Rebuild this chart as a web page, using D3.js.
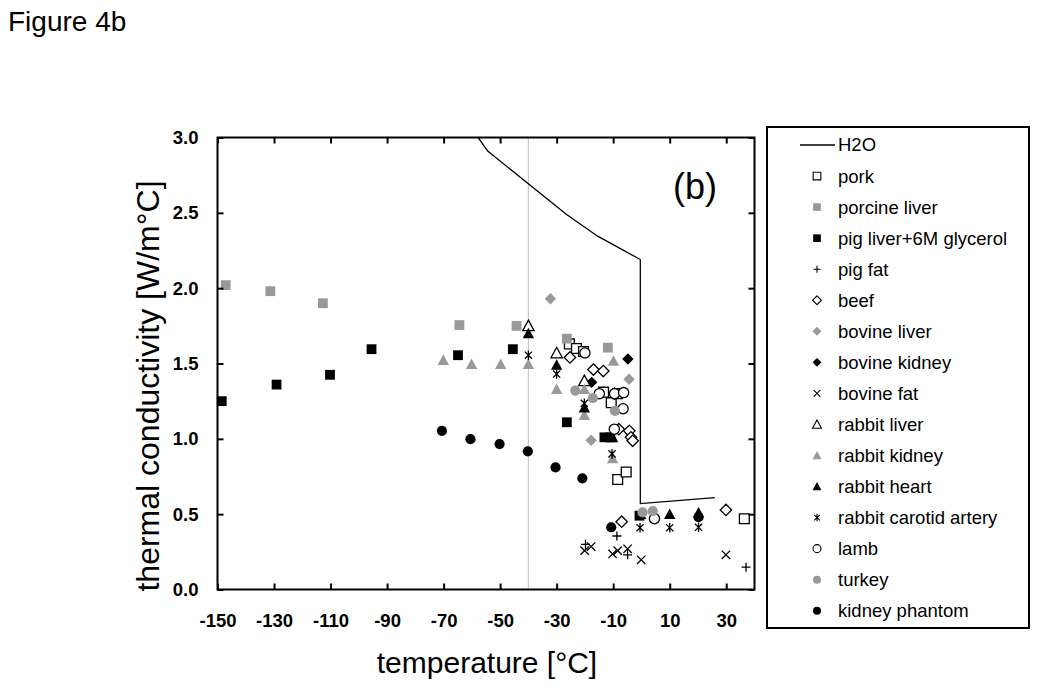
<!DOCTYPE html>
<html>
<head>
<meta charset="utf-8">
<script src="https://cdn.jsdelivr.net/npm/d3@7"></script>
<style>
html,body{margin:0;padding:0;background:#fff;}
svg{display:block;font-family:"Liberation Sans",Arial,sans-serif;}
</style>
</head>
<body>
<svg id="chart" width="1050" height="694"></svg>
<script>
// ---------- data ----------
const xTicks = [-150,-130,-110,-90,-70,-50,-30,-10,10,30];
const yTicks = [0,0.5,1.0,1.5,2.0,2.5,3.0];

const h2o = [[-57.8,3.0],[-54.4,2.91],[-26.6,2.49],[-15.5,2.345],[-0.4,2.19],[-0.4,0.57],[26,0.61]];

const pork = [[-25.5,1.63],[-23.0,1.60],[-20.5,1.58],[-13.4,1.31],[-10.7,1.24],[-8.5,1.30],[-8.4,0.73],[-5.4,0.78],[36.4,0.47]];
const porcineLiver = [[-147.1,2.02],[-131.3,1.98],[-112.7,1.90],[-64.4,1.755],[-44.2,1.75],[-26.4,1.665],[-11.9,1.605]];
const pigLiverGlycerol = [[-148.5,1.25],[-129.1,1.36],[-110.2,1.425],[-95.5,1.595],[-64.9,1.555],[-45.5,1.595],[-26.4,1.11],[-13.1,1.01],[-11.0,1.01],[-0.7,0.49]];
const pigFat = [[-19.8,0.30],[-8.7,0.355],[-4.9,0.23],[37.0,0.148]];
const beef = [[-25.3,1.54],[-17.0,1.46],[-13.5,1.45],[-9.5,1.30],[-8.0,1.064],[-4.3,1.053],[-3.7,1.01],[-3.1,0.987],[-7.0,0.45],[29.9,0.528]];
const bovineLiver = [[-32.2,1.93],[-4.4,1.395],[-17.8,0.99]];
const bovineKidney = [[-4.8,1.53],[-17.6,1.375]];
const bovineFat = [[-20.1,0.258],[-17.8,0.285],[-10.2,0.236],[-8.4,0.258],[-4.9,0.27],[-0.1,0.197],[29.9,0.23]];
const rabbitLiver = [[-40,1.75],[-30,1.57],[-20.2,1.385]];
const rabbitKidney = [[-70.1,1.523],[-60.1,1.495],[-49.8,1.495],[-40,1.495],[-30,1.33],[-20.2,1.33],[-20.2,1.157],[-9.9,1.517],[-10.2,0.87]];
const rabbitHeart = [[-40,1.70],[-30,1.49],[-20.2,1.207],[-10.2,1.01],[-0.3,0.50],[10,0.50],[20.2,0.51]];
const rabbitCarotid = [[-40,1.555],[-30,1.43],[-20.2,1.236],[-10.4,0.90],[-0.5,0.41],[10,0.41],[20.2,0.413]];
const lamb = [[-20,1.57],[-14.9,1.30],[-9.5,1.30],[-6.3,1.307],[-6.5,1.20],[-9.6,1.064],[4.6,0.47]];
const turkey = [[-23.4,1.32],[-17.2,1.27],[-9.4,1.185],[0.4,0.512],[4.0,0.52]];
const kidneyPhantom = [[-70.6,1.053],[-60.5,0.998],[-50.2,0.965],[-40.2,0.917],[-30.4,0.81],[-20.9,0.738],[-10.7,0.413],[20.2,0.48]];

const seriesNames = ["pork","porcine liver","pig liver+6M glycerol","pig fat","beef","bovine liver","bovine kidney","bovine fat","rabbit liver","rabbit kidney","rabbit heart","rabbit carotid artery","lamb","turkey","kidney phantom"];
const seriesData = [pork,porcineLiver,pigLiverGlycerol,pigFat,beef,bovineLiver,bovineKidney,bovineFat,rabbitLiver,rabbitKidney,rabbitHeart,rabbitCarotid,lamb,turkey,kidneyPhantom];
const seriesShape = ["square","square","square","plus","diamond","diamond","diamond","cross","triangle","triangle","triangle","star","circle","circle","circle"];
const seriesFill = ["open","gray","black","line","open","gray","black","line","open","gray","black","line","open","gray","black"];

// ---------- layout ----------
const GRAY = "#999999";
const svg = d3.select("#chart");
const x = d3.scaleLinear().domain([-150,40]).range([217.5,754.5]);
const y = d3.scaleLinear().domain([0,3]).range([589.5,137.5]);

function shapePath(shape, k){
  const p = d3.path();
  if(shape==="square"){ const s=4.9*k; p.rect(-s,-s,2*s,2*s); }
  else if(shape==="diamond"){ const s=5.7*k; p.moveTo(0,-s); p.lineTo(s,0); p.lineTo(0,s); p.lineTo(-s,0); p.closePath(); }
  else if(shape==="triangle"){ const s=5.7*k; p.moveTo(0,-s); p.lineTo(s,s*0.85); p.lineTo(-s,s*0.85); p.closePath(); }
  else if(shape==="circle"){ const r=5.1*k; p.moveTo(r,0); p.arc(0,0,r,0,2*Math.PI); p.closePath(); }
  else if(shape==="plus"){ const s=4.5*k; p.moveTo(-s,0); p.lineTo(s,0); p.moveTo(0,-s); p.lineTo(0,s); }
  else if(shape==="cross"){ const s=4.2*k; p.moveTo(-s,-s); p.lineTo(s,s); p.moveTo(-s,s); p.lineTo(s,-s); }
  else if(shape==="star"){ const s=3.6*k, v=4.8*k; p.moveTo(-s,-s); p.lineTo(s,s); p.moveTo(-s,s); p.lineTo(s,-s); p.moveTo(0,-v); p.lineTo(0,v); }
  return p.toString();
}
function styleMarker(sel, fillType){
  if(fillType==="open") sel.attr("fill","#fff").attr("stroke","#000").attr("stroke-width",1.3);
  else if(fillType==="gray") sel.attr("fill",GRAY).attr("stroke","none");
  else if(fillType==="black") sel.attr("fill","#000").attr("stroke","none");
  else sel.attr("fill","none").attr("stroke","#000").attr("stroke-width",1.3);
}
const fmtNum = f => d => f(d).replace("\u2212","-");

// title
svg.append("text").attr("x",8).attr("y",31).attr("font-size",28).attr("fill","#000").text("Figure 4b");

// gray line at -40
svg.append("line").attr("x1",x(-40)).attr("x2",x(-40)).attr("y1",y(0)).attr("y2",y(3))
  .attr("stroke","#c8c8c8").attr("stroke-width",1.2);

// clip
svg.append("clipPath").attr("id","clip").append("rect")
  .attr("x",x(-150)).attr("y",y(3)).attr("width",x(40)-x(-150)).attr("height",y(0)-y(3));

// H2O line
svg.append("path").datum(h2o).attr("clip-path","url(#clip)")
  .attr("d", d3.line().x(d=>x(d[0])).y(d=>y(d[1])))
  .attr("fill","none").attr("stroke","#000").attr("stroke-width",1.3);

// markers
seriesData.forEach((data,i)=>{
  const g = svg.append("g");
  const m = g.selectAll("path").data(data).enter().append("path")
    .attr("transform",d=>`translate(${x(d[0])},${y(d[1])})`)
    .attr("d",shapePath(seriesShape[i],1));
  styleMarker(m, seriesFill[i]);
});

// axes (ticks inside, mirrored)
const tickLen = 6;
const axB = svg.append("g").attr("transform",`translate(0,${y(0)})`).call(d3.axisBottom(x).tickValues(xTicks).tickSize(-tickLen).tickPadding(24).tickFormat(fmtNum(d3.format("d"))));
const axT = svg.append("g").attr("transform",`translate(0,${y(3)})`).call(d3.axisTop(x).tickValues(xTicks).tickSize(-tickLen).tickFormat(""));
const axL = svg.append("g").attr("transform",`translate(${x(-150)},0)`).call(d3.axisLeft(y).tickValues(yTicks).tickSize(-tickLen).tickPadding(19).tickFormat(fmtNum(d3.format(".1f"))));
const axR = svg.append("g").attr("transform",`translate(${x(40)},0)`).call(d3.axisRight(y).tickValues(yTicks).tickSize(-tickLen).tickFormat(""));
[axB,axT,axL,axR].forEach(a=>{
  a.select(".domain").remove();
  a.selectAll(".tick line").attr("stroke","#000").attr("stroke-width",2);
  a.selectAll(".tick text").attr("font-family","'Liberation Sans',Arial,sans-serif").attr("font-size",18.5).attr("font-weight","bold").attr("fill","#000");
});
axB.selectAll(".tick text").attr("dy","0.71em");
// frame
svg.append("rect").attr("x",x(-150)).attr("y",y(3)).attr("width",x(40)-x(-150)).attr("height",y(0)-y(3))
  .attr("fill","none").attr("stroke","#000").attr("stroke-width",2);

// (b)
svg.append("text").attr("x",673).attr("y",199).attr("font-size",36).attr("fill","#000").text("(b)");

// axis titles
svg.append("text").attr("x",487).attr("y",673).attr("text-anchor","middle").attr("font-size",30).attr("fill","#000").text("temperature [°C]");
svg.append("text").attr("transform","translate(159,386) rotate(-90)").attr("text-anchor","middle").attr("font-size",32).attr("fill","#000").text("thermal conductivity [W/m°C]");

// legend
const lg = svg.append("g");
lg.append("rect").attr("x",767).attr("y",127).attr("width",262).attr("height",501).attr("fill","#fff").attr("stroke","#000").attr("stroke-width",2);
const rowY = i => 145 + i*31.05;
lg.append("line").attr("x1",800).attr("x2",835).attr("y1",rowY(0)).attr("y2",rowY(0)).attr("stroke","#000").attr("stroke-width",1.3);
lg.append("text").attr("x",838).attr("y",rowY(0)).attr("dy","0.35em").attr("font-size",18.5).text("H2O");
seriesNames.forEach((name,i)=>{
  const m = lg.append("path").attr("transform",`translate(817,${rowY(i+1)})`).attr("d",shapePath(seriesShape[i],0.78));
  styleMarker(m, seriesFill[i]);
  if(seriesFill[i]==="open"||seriesFill[i]==="line") m.attr("stroke-width",1.1);
  lg.append("text").attr("x",838).attr("y",rowY(i+1)).attr("dy","0.35em").attr("font-size",18.5).text(name);
});
</script>
</body>
</html>
